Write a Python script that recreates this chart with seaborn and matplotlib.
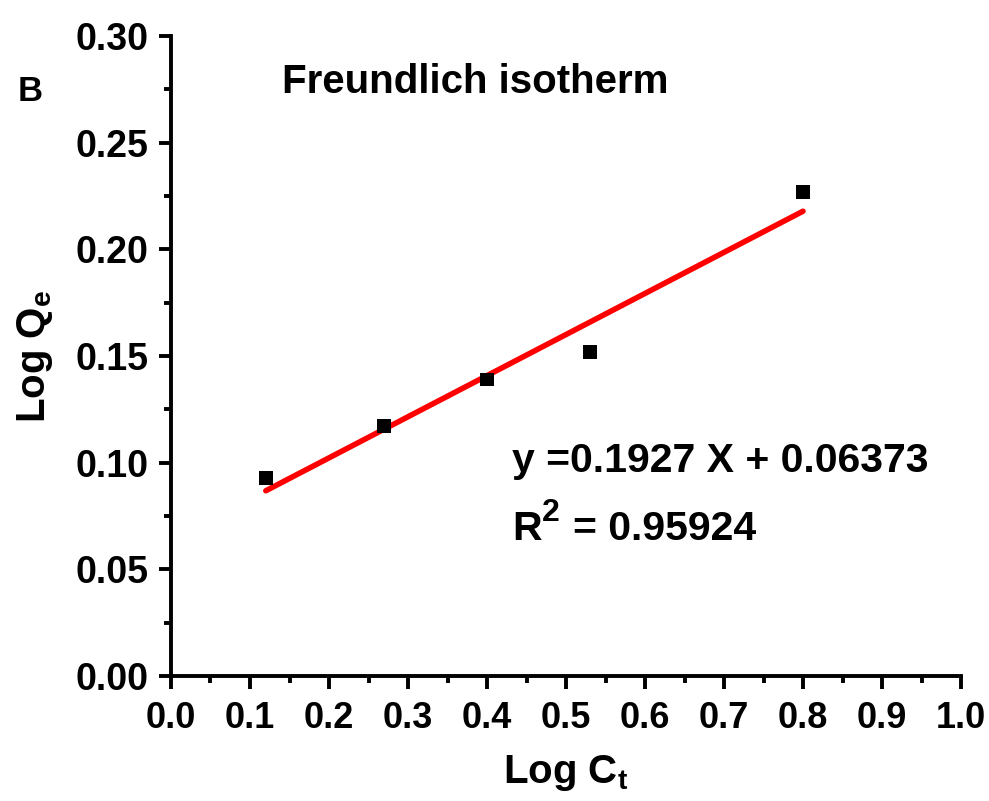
import numpy as np
import pandas as pd
import matplotlib
matplotlib.use("Agg")
import matplotlib.pyplot as plt
import seaborn as sns
from matplotlib.ticker import MultipleLocator

# ── data ──────────────────────────────────────────────────────────────────────
log_ct = [0.12, 0.27, 0.40, 0.53, 0.80]
log_qe = [0.093, 0.117, 0.139, 0.152, 0.227]

slope, intercept = 0.1927, 0.06373
fit_x = [0.12, 0.80]
r2 = 0.95924

# ── style ─────────────────────────────────────────────────────────────────────
sns.set_theme(style="ticks")
plt.rcParams['font.family'] = ['Liberation Sans', 'DejaVu Sans']
plt.rcParams['font.weight'] = 'bold'
plt.rcParams['mathtext.fontset'] = 'custom'
plt.rcParams['mathtext.rm'] = 'Liberation Sans:bold'
plt.rcParams['mathtext.bf'] = 'Liberation Sans:bold'
plt.rcParams['mathtext.it'] = 'Liberation Sans:bold'
plt.rcParams['mathtext.default'] = 'bf'
for k in ['text.color', 'axes.labelcolor', 'xtick.color', 'ytick.color', 'axes.edgecolor']:
    plt.rcParams[k] = 'black'

fig = plt.figure(figsize=(9.89, 8.01), dpi=100)
ax = fig.add_axes([0.1729, 0.156, 0.7988, 0.799])

df = pd.DataFrame({'x': log_ct, 'y': log_qe})
fit = pd.DataFrame({'x': fit_x, 'y': [slope * v + intercept for v in fit_x]})

sns.lineplot(data=fit, x='x', y='y', color='#ff0000', linewidth=4, ax=ax,
             solid_capstyle='round', zorder=2)
sns.scatterplot(data=df, x='x', y='y', marker='s', s=100, color='black',
                edgecolor='none', ax=ax, zorder=3)

ax.set_xlim(0, 1.0)
ax.set_ylim(0, 0.30)
ax.xaxis.set_major_locator(MultipleLocator(0.1))
ax.xaxis.set_minor_locator(MultipleLocator(0.05))
ax.yaxis.set_major_locator(MultipleLocator(0.05))
ax.yaxis.set_minor_locator(MultipleLocator(0.025))
ax.xaxis.set_major_formatter(plt.FuncFormatter(lambda v, p: f"{v:.1f}"))
ax.yaxis.set_major_formatter(plt.FuncFormatter(lambda v, p: f"{v:.2f}"))

sns.despine(ax=ax)
for s in ['left', 'bottom']:
    ax.spines[s].set_linewidth(2.8)
ax.tick_params(which='major', direction='out', length=9, width=2.8,
               labelsize=27, pad=7)
ax.tick_params(axis='x', which='major', pad=9, labelsize=26)
ax.tick_params(which='minor', direction='out', length=5, width=2.8)
for lab in ax.get_xticklabels() + ax.get_yticklabels():
    lab.set_fontweight('bold')

ax.set_xlabel('Log C$_t$', fontsize=29, fontweight='bold', labelpad=12)
ax.set_ylabel('Log Q$_e$', fontsize=29, fontweight='bold', labelpad=15)

ax.text(0.1405, 0.2733, 'Freundlich isotherm', fontsize=29, fontweight='bold',
        va='baseline', ha='left')
ax.text(-0.194, 0.2696, 'B', fontsize=25, fontweight='bold', va='baseline', ha='left')
ax.text(0.432, 0.0956, f'y ={slope} X + {intercept}', fontsize=29.5, fontweight='bold',
        va='baseline', ha='left')
ax.text(0.432, 0.0638, 'R', fontsize=29.5, fontweight='bold', va='baseline', ha='left')
ax.annotate('2', xy=(0.432, 0.0638), xytext=(21.5, 13.5), textcoords='offset points',
            fontsize=23, fontweight='bold', va='baseline', ha='left')
ax.annotate(f'= {r2}', xy=(0.432, 0.0638), xytext=(44, 0), textcoords='offset points',
            fontsize=29.5, fontweight='bold', va='baseline', ha='left')

fig.savefig('out.png', dpi=100)
